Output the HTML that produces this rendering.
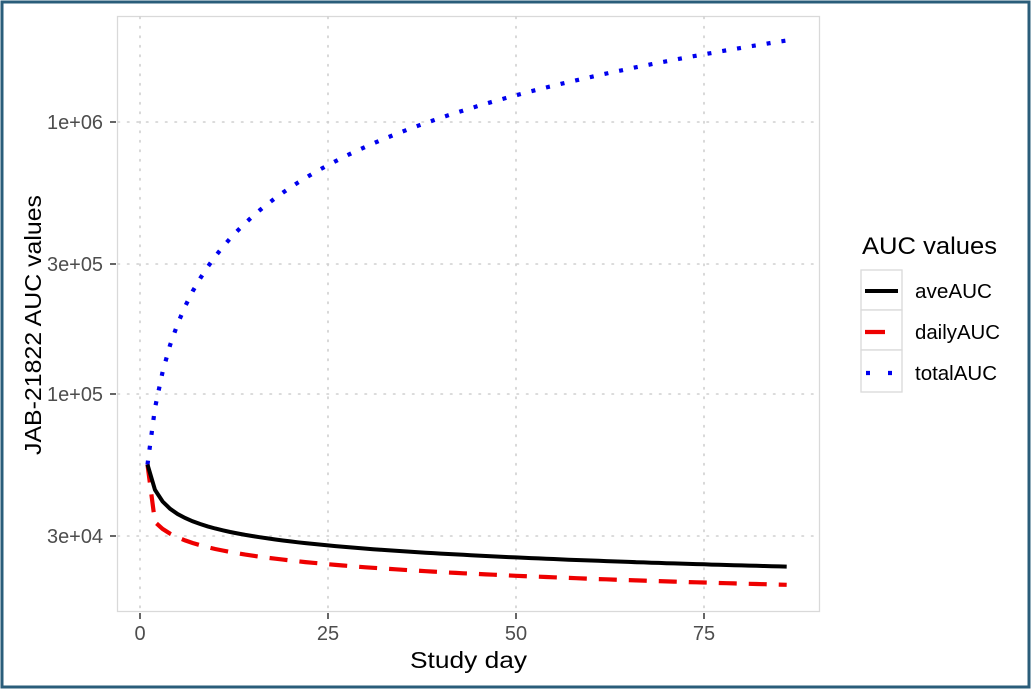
<!DOCTYPE html>
<html><head><meta charset="utf-8"><style>
html,body{margin:0;padding:0;background:#fff;}
svg{display:block;font-family:"Liberation Sans",sans-serif;}
</style></head><body>
<svg id="s" width="1031" height="689" viewBox="0 0 1031 689">
<rect x="0" y="0" width="1031" height="689" fill="#fff"/>
<rect x="2" y="2" width="1027" height="685" fill="none" stroke="#2a5d7a" stroke-width="3"/>
<rect x="117.5" y="16.5" width="702" height="595" fill="#fff" stroke="#d9d9d9" stroke-width="1.3"/>
<g stroke="#cfcfcf" stroke-width="1.6" stroke-dasharray="1.5,8" stroke-linecap="round">
<line x1="140" y1="17" x2="140" y2="611"/><line x1="328" y1="17" x2="328" y2="611"/>
<line x1="516" y1="17" x2="516" y2="611"/><line x1="704" y1="17" x2="704" y2="611"/>
<line x1="118" y1="122" x2="819" y2="122"/><line x1="118" y1="264" x2="819" y2="264"/>
<line x1="118" y1="394" x2="819" y2="394"/><line x1="118" y1="536" x2="819" y2="536"/>
</g>
<g stroke="#333" stroke-width="1.5">
<line x1="110" y1="122" x2="116" y2="122"/><line x1="110" y1="264" x2="116" y2="264"/>
<line x1="110" y1="394" x2="116" y2="394"/><line x1="110" y1="536" x2="116" y2="536"/>
<line x1="140" y1="613" x2="140" y2="619"/><line x1="328" y1="613" x2="328" y2="619"/>
<line x1="516" y1="613" x2="516" y2="619"/><line x1="704" y1="613" x2="704" y2="619"/>
</g>
<g fill="#4d4d4d" font-size="20" text-anchor="end">
<text x="103" y="129" textLength="56" lengthAdjust="spacingAndGlyphs">1e+06</text><text x="103" y="271" textLength="56" lengthAdjust="spacingAndGlyphs">3e+05</text>
<text x="103" y="401" textLength="56" lengthAdjust="spacingAndGlyphs">1e+05</text><text x="103" y="543" textLength="56" lengthAdjust="spacingAndGlyphs">3e+04</text>
</g>
<g fill="#4d4d4d" font-size="20" text-anchor="middle">
<text x="140" y="640">0</text><text x="328" y="640">25</text>
<text x="516" y="640">50</text><text x="704" y="640">75</text>
</g>
<text x="410" y="668" font-size="23" fill="#000" textLength="117" lengthAdjust="spacingAndGlyphs">Study day</text>
<text transform="translate(41,455) rotate(-90)" font-size="23" fill="#000" textLength="260" lengthAdjust="spacingAndGlyphs">JAB-21822 AUC values</text>
<path id="tot" fill="none" stroke="#0000ee" stroke-width="4.2" stroke-dasharray="4,11"/>
<path id="dai" fill="none" stroke="#ee0000" stroke-width="4.2" stroke-dasharray="18,12"/>
<path id="ave" fill="none" stroke="#000" stroke-width="4"/>
<text x="862" y="254" font-size="24" fill="#000" textLength="135" lengthAdjust="spacingAndGlyphs">AUC values</text>
<g fill="#fff" stroke="#d9d9d9" stroke-width="1.3">
<rect x="861" y="270" width="41" height="40"/><rect x="861" y="310" width="41" height="40"/><rect x="861" y="350" width="41" height="42"/>
</g>
<line x1="865" y1="291" x2="898" y2="291" stroke="#000" stroke-width="4"/>
<line x1="865" y1="332" x2="885" y2="332" stroke="#ee0000" stroke-width="4.2"/>
<line x1="866" y1="373" x2="898" y2="373" stroke="#0000ee" stroke-width="4.2" stroke-dasharray="4,18"/>
<g font-size="20" fill="#000">
<text x="915" y="298" textLength="77" lengthAdjust="spacingAndGlyphs">aveAUC</text><text x="915" y="339" textLength="85" lengthAdjust="spacingAndGlyphs">dailyAUC</text><text x="915" y="380" textLength="82" lengthAdjust="spacingAndGlyphs">totalAUC</text>
</g>
</svg>
<script>
function X(t){return 140+t*7.52;}
function Y(v){return 394-272*(Math.log10(v)-5);}
var d=[],tot=[],ave=[],c=0;
for(var t=1;t<=86;t++){var v=t==1?55000:29700*Math.pow(t/5,-0.141);d.push(v);c+=v;tot.push(c);ave.push(c/t);}
function p(a){var s="";for(var i=0;i<a.length;i++){s+=(i?"L":"M")+X(i+1).toFixed(1)+","+Y(a[i]).toFixed(1);}return s;}
document.getElementById("tot").setAttribute("d",p(tot));
document.getElementById("dai").setAttribute("d",p(d));
document.getElementById("ave").setAttribute("d",p(ave));
</script>
</body></html>
